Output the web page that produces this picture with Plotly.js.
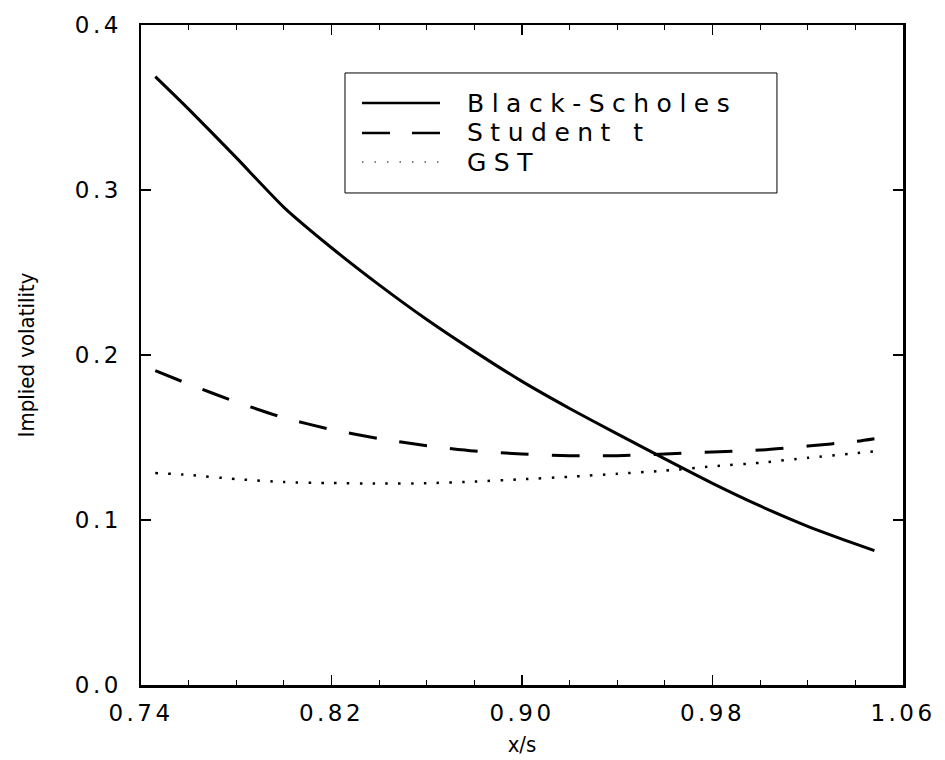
<!DOCTYPE html>
<html>
<head>
<meta charset="utf-8">
<script src="https://cdn.plot.ly/plotly-3.0.1.min.js"></script>
<style>
  html, body { margin: 0; padding: 0; background: #fff; }
  #chart { width: 945px; height: 760px; }
  .xtick text, .ytick text { letter-spacing: 3.5px; }
  .annotation-text { letter-spacing: 7.5px; }
</style>
</head>
<body>
<div id="chart"></div>
<script>
// Strike / spot ratio
const moneyness = [0.746, 0.76, 0.78, 0.80, 0.82, 0.84, 0.86, 0.88, 0.90, 0.92, 0.94, 0.96, 0.98, 1.00, 1.02, 1.04, 1.048];
// Implied volatility series
const blackScholes = [0.3687, 0.3490, 0.3196, 0.2895, 0.2650, 0.2425, 0.2215, 0.2022, 0.1840, 0.1676, 0.1522, 0.1370, 0.1222, 0.1085, 0.0962, 0.0855, 0.0814];
const studentT     = [0.1905, 0.1824, 0.1715, 0.1620, 0.1548, 0.1493, 0.1450, 0.1418, 0.1400, 0.1390, 0.1390, 0.1400, 0.1412, 0.1424, 0.1448, 0.1476, 0.1493];
const gst          = [0.1285, 0.1273, 0.1248, 0.1230, 0.1224, 0.1221, 0.1223, 0.1233, 0.1247, 0.1262, 0.1280, 0.1299, 0.1325, 0.1347, 0.1377, 0.1405, 0.1416];
const seriesNames = ["Black-Scholes", "Student t", "GST"];
const xTickVals = [0.74, 0.82, 0.90, 0.98, 1.06];
const xTickText = ["0.74", "0.82", "0.90", "0.98", "1.06"];
const yTickVals = [0.0, 0.1, 0.2, 0.3, 0.4];
const yTickText = ["0.0", "0.1", "0.2", "0.3", "0.4"];

const dashes = ["solid", "28px,23px", "2.5px,10.3px"];
const widths = [3, 3, 2.5];
const allY = [blackScholes, studentT, gst];

const traces = allY.map((ys, i) => ({
  x: moneyness, y: ys, name: seriesNames[i], type: "scatter", mode: "lines",
  line: { color: "#000", width: widths[i], dash: dashes[i], shape: "spline", smoothing: 0.6 },
  showlegend: false, hoverinfo: "x+y+name"
}));

// Custom legend (paper coordinates)
const legX0 = 0.2677, legX1 = 0.8346, legY0 = 0.7455, legY1 = 0.9273;
const rowY = [0.8818, 0.8364, 0.7924];
const shapes = [{
  type: "rect", xref: "paper", yref: "paper", x0: legX0, x1: legX1, y0: legY0, y1: legY1,
  line: { color: "#000", width: 1 }, fillcolor: "#fff", layer: "below"
}];
const annotations = [];
seriesNames.forEach((n, i) => {
  shapes.push({
    type: "line", xref: "paper", yref: "paper", x0: 0.2900, x1: 0.3924, y0: rowY[i], y1: rowY[i],
    line: { color: "#000", width: i === 2 ? 1.2 : 2.5, dash: i === 0 ? "solid" : (i === 1 ? "28px,22px" : "1.5px,11px") }
  });
  annotations.push({
    xref: "paper", yref: "paper", x: 0.4252, y: rowY[i], xanchor: "left", yanchor: "middle",
    text: n, showarrow: false,
    font: { family: "DejaVu Sans", size: 25, color: "#000" }
  });
});

const tickFont = { family: "DejaVu Sans", size: 23, color: "#000" };
const titleFont = { family: "Liberation Sans Narrow, DejaVu Sans Condensed, Liberation Sans, sans-serif", size: 22, color: "#000" };

const layout = {
  width: 945, height: 760,
  margin: { l: 141, r: 42, t: 25, b: 75 },
  paper_bgcolor: "#fff", plot_bgcolor: "#fff",
  xaxis: {
    range: [0.74, 1.06], tickvals: xTickVals, ticktext: xTickText,
    ticks: "inside", ticklen: 10, tickwidth: 1.5, tickcolor: "#000",
    minor: { dtick: 0.02, tick0: 0.74, ticks: "inside", ticklen: 5, tickwidth: 1.2, tickcolor: "#000" },
    showline: true, linewidth: 2.5, linecolor: "#000", mirror: "ticks",
    showgrid: false, zeroline: false, tickfont: tickFont, ticklabelstandoff: 6,
    title: { text: "x/s", font: titleFont, standoff: 12 }, automargin: false
  },
  yaxis: {
    range: [0, 0.4], tickvals: yTickVals, ticktext: yTickText,
    ticks: "inside", ticklen: 10, tickwidth: 1.5, tickcolor: "#000",
    showline: true, linewidth: 2.5, linecolor: "#000", mirror: "ticks",
    showgrid: false, zeroline: false, tickfont: tickFont, ticklabelstandoff: 12,
    title: { text: "Implied volatility", font: titleFont, standoff: 34 }, automargin: false
  },
  shapes: shapes,
  annotations: annotations,
  showlegend: false
};

Plotly.newPlot("chart", traces, layout, { displayModeBar: false, staticPlot: true });
</script>
</body>
</html>
